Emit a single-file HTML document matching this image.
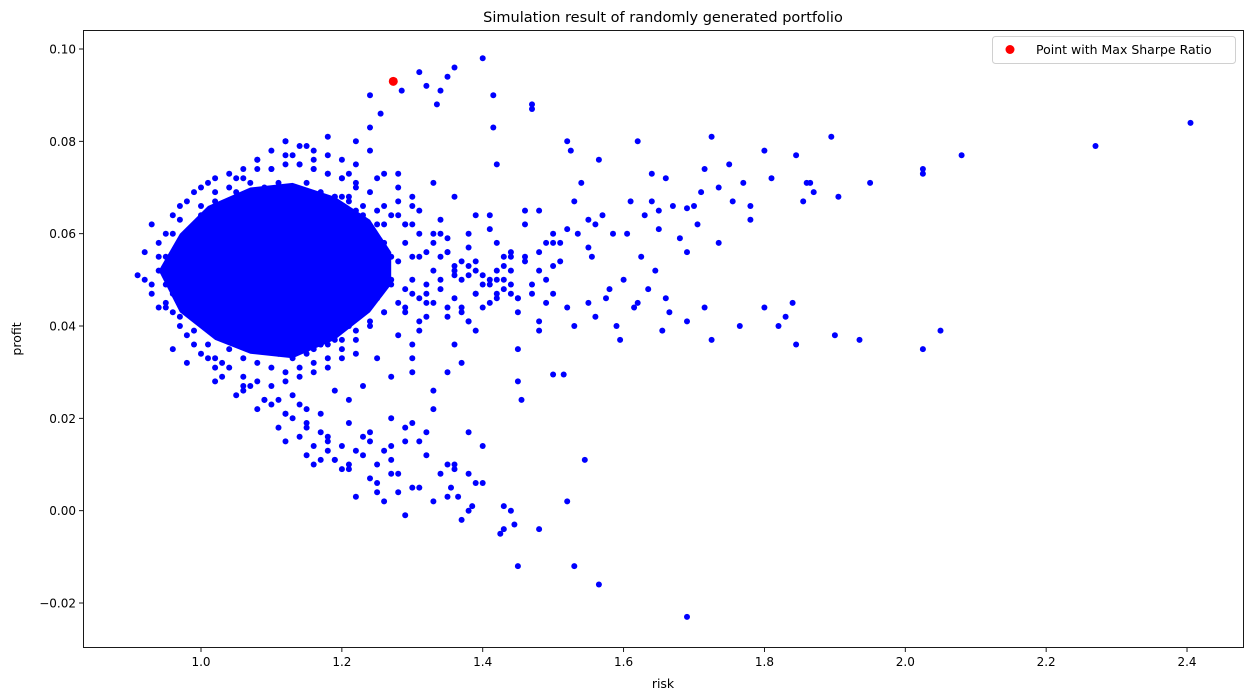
<!DOCTYPE html>
<html><head><meta charset="utf-8"><style>
body{margin:0;background:#fff;}
svg{display:block;font-family:"DejaVu Sans","Liberation Sans",sans-serif;}
</style></head><body>
<svg id="chart" width="1254" height="699"></svg>
<script>
const xTicks=[1.0,1.2,1.4,1.6,1.8,2.0,2.2,2.4];
const yTicks=[-0.02,0.00,0.02,0.04,0.06,0.08,0.10];
const maxRisk=[1.273];
const maxProfit=[0.093];
const risk=[2.405,2.27,2.08,2.05,2.025,2.025,2.025,1.95,1.935,1.905,1.90,1.895,1.87,1.86,1.865,1.855,1.845,1.845,1.84,1.83,1.82,1.81,1.80,1.80,1.78,1.78,1.77,1.765,1.75,1.755,1.735,1.735,1.725,1.725,1.715,1.715,1.71,1.705,1.70,1.69,1.69,1.69,1.68,1.67,1.665,1.66,1.66,1.655,1.65,1.65,1.645,1.64,1.64,1.635,1.63,1.625,1.62,1.62,1.615,1.61,1.605,1.60,1.595,1.59,1.585,1.58,1.575,1.57,1.565,1.56,1.56,1.555,1.55,1.545,1.54,1.535,1.53,1.53,1.525,1.52,1.52,1.51,1.50,1.49,1.48,1.47,1.47,1.46,1.455,1.45,1.45,1.445,1.44,1.43,1.425,1.43,1.415,1.415,1.42,1.40,1.40,1.39,1.385,1.38,1.37,1.355,1.36,1.35,1.34,1.335,1.32,1.31,1.285,1.24,1.255,1.50,1.515,1.48,1.53,1.565,1.69,1.29,1.35,1.365,1.32,1.40,1.38,
1.55,1.52,1.50,1.48,1.46,1.44,1.42,1.40,1.38,1.36,1.34,1.32,1.30,1.28,1.26,1.24,1.22,1.20,1.18,1.16,1.14,1.12,
1.55,1.52,1.50,1.48,1.46,1.44,1.42,1.40,1.38,1.36,1.34,1.32,1.30,1.28,1.26,1.24,1.22,1.20,
1.51,1.49,1.47,1.45,1.43,1.41,1.39,1.37,1.35,1.33,1.31,1.29,1.27,1.25,1.23,1.21,1.19,1.17,1.15,1.13,1.11,
1.48,1.45,1.42,1.39,1.36,1.33,1.30,1.27,1.24,1.21,1.18,1.15,1.12,1.09,1.06,1.03,
1.44,1.41,1.38,1.35,1.32,1.29,1.26,1.23,1.20,1.17,1.14,1.11,1.08,1.05,1.02,
1.36,1.33,1.30,1.27,1.24,1.21,1.18,1.15,1.12,1.09,1.06,1.03,
1.34,1.31,1.28,1.25,1.22,1.19,1.16,1.13,1.10,1.07,
1.30,1.27,1.24,1.21,1.18,1.15,1.12,
1.28,1.25,1.22,1.19,1.16,1.26,1.23,1.30,1.33,1.36,1.27,1.25,1.29,1.31,1.38,1.35,1.20,1.17,1.14,
0.91,0.92,0.93,0.94,0.95,0.96,0.97,0.98,0.99,0.93,0.95,0.97,0.99,0.96,0.98,1.00,1.01,1.02,1.03,0.94,
1.00,1.02,1.04,1.06,1.08,1.10,1.12,1.14,1.16,1.18,1.20,1.22,1.24,1.26,1.28,1.30,
1.02,1.04,1.06,1.08,1.10,1.12,1.14,1.16,1.18,1.20,1.22,
1.03,1.05,1.07,1.09,1.11,1.13,1.15,1.17,1.19,
1.10,1.13,1.16,1.12,1.15,1.18,1.08,1.21,1.25,1.05,
1.02,1.04,1.06,1.08,1.10,1.12,1.14,1.16,1.18,1.20,1.22,1.24,1.26,1.28,1.30,1.32,1.34,1.36,1.38,
0.97,0.99,1.01,1.03,1.05,1.07,1.09,1.11,1.13,1.15,1.17,1.19,1.21,1.23,1.25,1.27,1.29,1.31,1.33,1.35,1.37,1.39,1.41,1.43,1.45,1.47,1.49,
0.96,0.98,1.00,1.02,1.04,1.06,1.08,1.10,1.12,1.14,1.16,1.18,1.20,1.22,1.24,1.26,1.28,1.30,1.32,1.34,1.36,1.38,1.40,1.42,1.44,1.46,1.48,1.50,
0.95,0.97,0.99,1.01,1.03,1.05,1.07,1.09,1.11,1.13,1.15,1.17,1.19,1.21,1.23,1.25,1.27,1.29,1.31,1.33,1.35,1.37,1.39,1.41,1.43,1.45,
0.92,0.93,0.94,0.94,0.95,0.95,0.96,0.96,0.97,0.97,0.98,0.98,0.99,0.99,1.00,1.00,1.01,1.01,1.02,1.02,
1.04,1.06,1.08,1.10,1.12,1.14,1.16,1.18,1.20,1.22,1.05,1.07,1.09,1.11,1.13,1.15,1.17,1.19,1.21,1.23,1.25,1.26,1.27,1.26,1.27,1.25,1.26,1.24,1.22,1.20,1.18,1.16,1.14,1.12,1.10,1.08,1.06,1.04,1.03,1.13,1.15,1.17,1.19,1.21,1.23,1.24,1.25,1.24,1.22,
1.29,1.30,1.31,1.32,1.33,1.34,1.35,1.36,1.37,1.38,1.39,1.29,1.31,1.28,1.30,1.29,1.31,1.28,1.33,1.35,1.37,1.39,1.41,1.43,1.42,1.44];
const profit=[0.084,0.079,0.077,0.039,0.074,0.073,0.035,0.071,0.037,0.068,0.038,0.081,0.069,0.071,0.071,0.067,0.077,0.036,0.045,0.042,0.040,0.072,0.078,0.044,0.063,0.066,0.071,0.040,0.075,0.067,0.070,0.058,0.081,0.037,0.074,0.044,0.069,0.062,0.066,0.056,0.041,0.0655,0.059,0.066,0.043,0.072,0.046,0.039,0.065,0.061,0.052,0.073,0.067,0.048,0.064,0.055,0.080,0.045,0.044,0.067,0.060,0.050,0.037,0.040,0.060,0.048,0.046,0.064,0.076,0.042,0.062,0.055,0.045,0.011,0.071,0.060,0.067,0.040,0.078,0.080,0.002,0.058,0.053,0.050,0.065,0.088,0.087,0.055,0.024,0.028,-0.012,-0.003,0.000,-0.004,-0.005,0.001,0.090,0.083,0.075,0.098,0.006,0.006,0.001,0.000,-0.002,0.005,0.096,0.094,0.091,0.088,0.092,0.095,0.091,0.090,0.086,0.0295,0.0295,-0.004,-0.012,-0.016,-0.023,-0.001,0.003,0.003,0.012,0.014,0.017,
0.057,0.061,0.047,0.052,0.062,0.049,0.058,0.044,0.060,0.051,0.063,0.047,0.066,0.070,0.073,0.078,0.080,0.076,0.081,0.078,0.079,0.080,
0.063,0.044,0.060,0.041,0.065,0.055,0.046,0.051,0.041,0.036,0.060,0.042,0.068,0.073,0.062,0.083,0.075,0.068,
0.054,0.058,0.049,0.035,0.053,0.061,0.039,0.032,0.030,0.071,0.039,0.043,0.029,0.033,0.027,0.024,0.026,0.021,0.022,0.025,0.024,
0.039,0.043,0.047,0.064,0.068,0.026,0.033,0.020,0.015,0.019,0.016,0.019,0.021,0.024,0.026,0.029,
0.056,0.064,0.041,0.059,0.017,0.015,0.013,0.012,0.014,0.017,0.016,0.018,0.022,0.025,0.028,
0.009,0.022,0.030,0.011,0.007,0.010,0.013,0.012,0.015,0.024,0.027,0.032,
0.008,0.005,0.008,0.004,0.013,0.011,0.010,0.020,0.023,0.027,
0.019,0.014,0.017,0.009,0.015,0.018,0.021,
0.004,0.006,0.003,0.011,0.014,0.002,0.016,0.005,0.002,0.010,0.008,0.010,0.018,0.015,0.008,0.010,0.009,0.011,0.023,
0.051,0.050,0.062,0.055,0.045,0.060,0.042,0.058,0.048,0.049,0.044,0.063,0.039,0.035,0.032,0.064,0.036,0.067,0.064,0.052,
0.066,0.069,0.070,0.072,0.074,0.074,0.075,0.075,0.074,0.073,0.072,0.070,0.069,0.066,0.064,0.062,
0.033,0.031,0.029,0.028,0.027,0.028,0.029,0.030,0.031,0.033,0.034,
0.040,0.038,0.036,0.035,0.034,0.034,0.035,0.036,0.038,
0.078,0.077,0.076,0.080,0.079,0.077,0.076,0.073,0.072,0.072,
0.045,0.043,0.041,0.039,0.037,0.036,0.035,0.035,0.036,0.037,0.039,0.041,0.043,0.045,0.047,0.049,0.050,0.052,0.053,
0.057,0.059,0.060,0.061,0.062,0.063,0.064,0.065,0.066,0.067,0.068,0.068,0.068,0.066,0.065,0.064,0.062,0.060,0.058,0.056,0.054,0.052,0.050,0.048,0.046,0.047,0.045,
0.047,0.045,0.043,0.042,0.041,0.040,0.040,0.039,0.040,0.041,0.042,0.044,0.046,0.048,0.050,0.052,0.054,0.055,0.056,0.055,0.053,0.051,0.049,0.050,0.052,0.054,0.056,0.058,
0.055,0.056,0.057,0.058,0.059,0.060,0.061,0.062,0.063,0.062,0.061,0.060,0.058,0.057,0.056,0.055,0.050,0.048,0.046,0.045,0.044,0.043,0.047,0.045,0.050,0.046,
0.056,0.047,0.058,0.044,0.060,0.049,0.064,0.043,0.066,0.040,0.067,0.038,0.069,0.036,0.070,0.034,0.071,0.033,0.072,0.031,
0.073,0.074,0.076,0.074,0.077,0.075,0.074,0.073,0.072,0.071,0.069,0.071,0.070,0.071,0.070,0.071,0.069,0.068,0.067,0.064,0.062,0.058,0.055,0.052,0.049,0.046,0.043,0.040,0.037,0.035,0.033,0.032,0.031,0.030,0.031,0.032,0.033,0.035,0.038,0.033,0.034,0.036,0.037,0.040,0.043,0.047,0.055,0.060,0.065,
0.058,0.050,0.055,0.045,0.052,0.048,0.056,0.046,0.050,0.057,0.047,0.044,0.041,0.038,0.036,0.062,0.065,0.067,0.060,0.042,0.044,0.054,0.049,0.055,0.052,0.047];
const core=[[0.94,0.052],[0.97,0.060],[1.01,0.066],[1.07,0.070],[1.13,0.071],[1.19,0.068],[1.24,0.063],[1.27,0.056],[1.27,0.049],[1.24,0.043],[1.19,0.037],[1.13,0.033],[1.07,0.034],[1.02,0.037],[0.97,0.043]];

const NS="http://www.w3.org/2000/svg";
const svg=document.getElementById('chart');
const L=83,R=1244,T=30,B=648;
function sx(v){return 201+(v-1)*704.3;}
function sy(v){return 49+(0.1-v)*4616.7;}
function mk(tag,attrs,parent){const e=document.createElementNS(NS,tag);for(const k in attrs)e.setAttribute(k,attrs[k]);(parent||svg).appendChild(e);return e;}

const t=mk('text',{x:663,y:22,'text-anchor':'middle','font-size':'14.5'});t.textContent='Simulation result of randomly generated portfolio';



const plot=mk('g',{});


const blob=mk('path',{d:'M'+core.map(p=>sx(p[0]).toFixed(1)+','+sy(p[1]).toFixed(1)).join('L')+'Z',fill:'#0000ff'},plot);


for(let i=0;i<risk.length;i++){
  const c=mk('circle',{cx:sx(risk[i]).toFixed(1),cy:sy(profit[i]).toFixed(1),r:3,fill:'#0000ff'},plot);
  
  
}
for(let i=0;i<maxRisk.length;i++){
  const c=mk('circle',{cx:sx(maxRisk[i]),cy:sy(maxProfit[i]),r:4.5,fill:'#ff0000'},plot);
  
  
}
const frame=mk('rect',{x:L+0.5,y:T+0.5,width:R-L-1,height:B-T-1,fill:'none',stroke:'#000','stroke-width':0.9});



xTicks.forEach(v=>{
  const x=sx(v);
  mk('line',{x1:x,x2:x,y1:B,y2:B+4,stroke:'#000','stroke-width':0.9});
  const tx=mk('text',{x:x,y:B+18,'text-anchor':'middle','font-size':'12'});tx.textContent=v.toFixed(1);
  
  
});
yTicks.forEach(v=>{
  const y=sy(v);
  mk('line',{x1:L-4,x2:L,y1:y,y2:y,stroke:'#000','stroke-width':0.9});
  const ty=mk('text',{x:L-7,y:y+4.5,'text-anchor':'end','font-size':'12'});ty.textContent=(v<0?'\u2212':'')+Math.abs(v).toFixed(2);
  
  
});
const xl=mk('text',{x:663,y:688,'text-anchor':'middle','font-size':'12.5'});xl.textContent='risk';


const yl=mk('text',{x:0,y:0,'text-anchor':'middle','font-size':'12.5',transform:'translate(21,339) rotate(-90)'});yl.textContent='profit';



const lg=mk('g',{});


mk('rect',{x:992.5,y:36.5,width:243,height:27,rx:3,fill:'#fff',stroke:'#d0d0d0'},lg);
mk('circle',{cx:1010,cy:49.5,r:4.5,fill:'#ff0000'},lg);
const lt=mk('text',{x:1036,y:54,'font-size':'12.5'},lg);lt.textContent='Point with Max Sharpe Ratio';


</script>
</body></html>
